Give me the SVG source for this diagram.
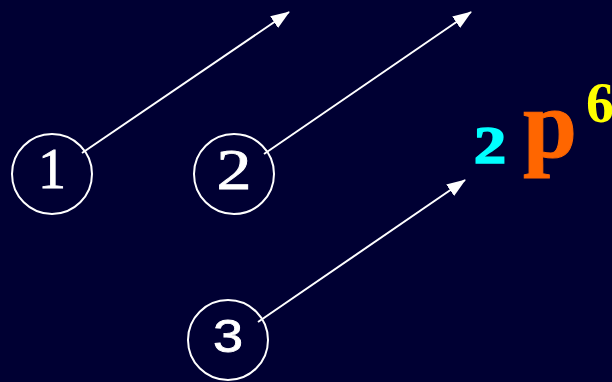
<svg xmlns="http://www.w3.org/2000/svg" width="612" height="382" viewBox="0 0 612 382">
<defs>
<marker id="ah" markerWidth="20" markerHeight="14" refX="18" refY="7" orient="auto" markerUnits="userSpaceOnUse"><path d="M0,0 L19,7 L0,14 Z" fill="#fff"/></marker>
<style>
.c{fill:none;stroke:#fff;stroke-width:2}
.n{fill:#fff;font-family:"Liberation Serif",serif;font-size:56px;text-anchor:middle;stroke:#fff;stroke-width:0.8}
.a{stroke:#fff;stroke-width:2;fill:none}
</style>
</defs>
<rect width="612" height="382" fill="#000033"/>
<g id="node1"><circle class="c" cx="52" cy="174" r="40"/><text class="n" x="52" y="188">1</text></g>
<g id="node2"><circle class="c" cx="234" cy="174" r="40"/><text class="n" x="234" y="189" transform="translate(234 0) scale(1.25 1) translate(-234 0)">2</text></g>
<g id="node3"><circle class="c" cx="228" cy="340" r="40"/><text class="n" x="228" y="352" style="font-family:'Liberation Sans',sans-serif;font-size:47px" transform="translate(228 0) scale(1.15 1) translate(-228 0)">3</text></g>
<g id="label">
<text x="490" y="163" fill="#00ffff" font-family="Liberation Serif,serif" font-weight="bold" font-size="52" text-anchor="middle" stroke="#00ffff" stroke-width="1.5" transform="translate(490 0) scale(1.25 1) translate(-490 0)">2</text>
<text x="550" y="157" fill="#ff6600" font-family="Liberation Serif,serif" font-weight="bold" font-size="97" text-anchor="middle" stroke="#ff6600" stroke-width="1">p</text>
<text x="586" y="122" fill="#ffff00" font-family="Liberation Serif,serif" font-weight="bold" font-size="56">6</text>
</g>
<g id="connectors">
<line class="a" x1="82" y1="153" x2="289" y2="12" marker-end="url(#ah)"/>
<line class="a" x1="264" y1="154" x2="471" y2="12" marker-end="url(#ah)"/>
<line class="a" x1="258" y1="322" x2="465" y2="180" marker-end="url(#ah)"/>
</g>
</svg>
